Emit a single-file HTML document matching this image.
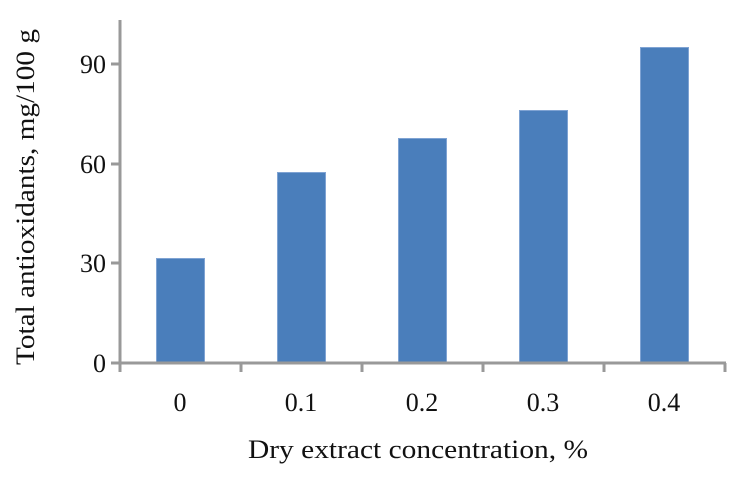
<!DOCTYPE html>
<html><head><style>body{margin:0;background:#fff}svg{display:block}</style></head><body>
<svg width="740" height="492" xmlns="http://www.w3.org/2000/svg" font-family="Liberation Serif, serif" fill="#111">
<g fill="#4a7ebb" stroke="#7fa3d3" stroke-width="1">
<rect x="156.5" y="258.5" width="48" height="104"/>
<rect x="277.5" y="172.5" width="48" height="190"/>
<rect x="398.5" y="138.5" width="48" height="224"/>
<rect x="519.5" y="110.5" width="48" height="252"/>
<rect x="640.5" y="47.5" width="48" height="315"/>
</g>
<g stroke="#999" stroke-width="3" fill="none">
<line x1="120" y1="20" x2="120" y2="372"/>
<line x1="111" y1="363" x2="726" y2="363"/>
<line x1="111" y1="263" x2="120" y2="263"/>
<line x1="111" y1="164" x2="120" y2="164"/>
<line x1="111" y1="64" x2="120" y2="64"/>
<line x1="241" y1="363" x2="241" y2="372"/>
<line x1="362" y1="363" x2="362" y2="372"/>
<line x1="483" y1="363" x2="483" y2="372"/>
<line x1="604" y1="363" x2="604" y2="372"/>
<line x1="725" y1="363" x2="725" y2="372"/>
</g>
<g font-size="26" text-anchor="end">
<text x="106" y="372">0</text>
<text x="106" y="272">30</text>
<text x="106" y="173">60</text>
<text x="106" y="73">90</text>
</g>
<g font-size="26" text-anchor="middle">
<text x="180" y="411">0</text>
<text x="301" y="411">0.1</text>
<text x="422" y="411">0.2</text>
<text x="543" y="411">0.3</text>
<text x="664" y="411">0.4</text>
</g>
<g font-size="26">
<text x="248" y="458" textLength="340" lengthAdjust="spacingAndGlyphs">Dry extract concentration, %</text>
<text transform="translate(34,365) rotate(-90)" textLength="336" lengthAdjust="spacingAndGlyphs">Total antioxidants, mg/100 g</text>
</g>
</svg>
</body></html>
